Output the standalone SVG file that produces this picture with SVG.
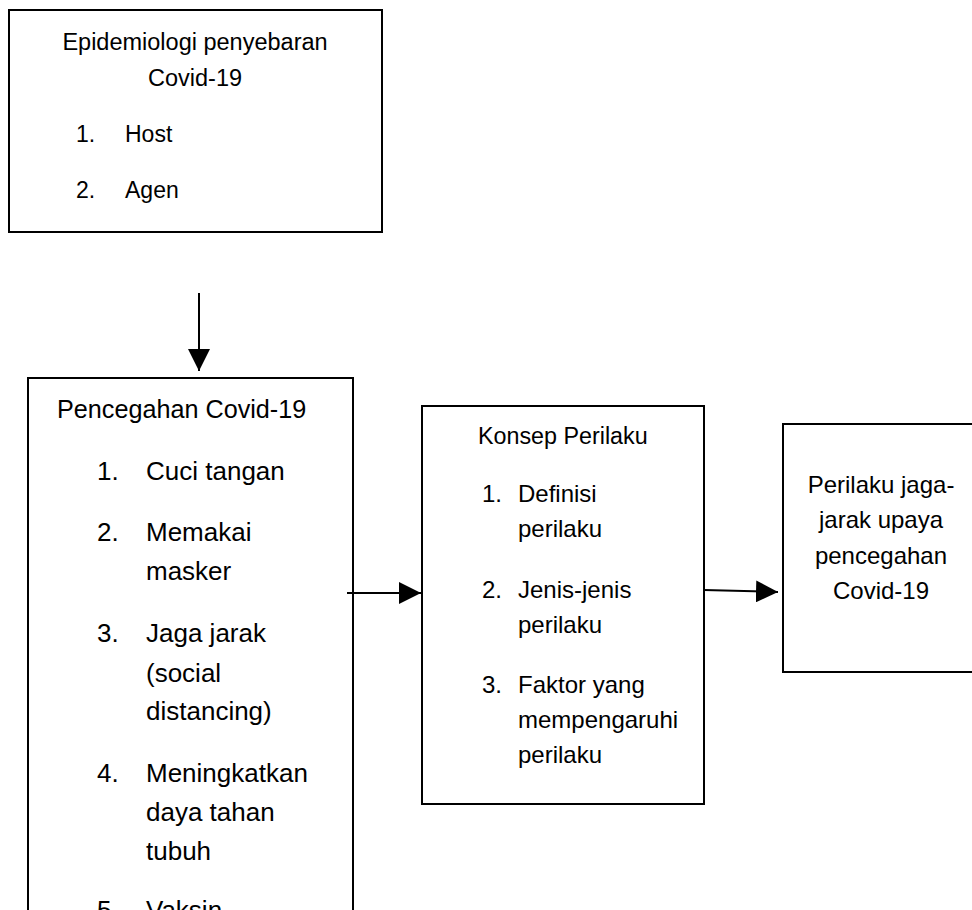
<svg xmlns="http://www.w3.org/2000/svg" width="972" height="910" viewBox="0 0 972 910">
  <defs>
    <marker id="arrow" markerWidth="22" markerHeight="22" refX="22" refY="11" orient="auto" markerUnits="userSpaceOnUse">
      <path d="M0,0 L22,11 L0,22 Z" fill="#000"/>
    </marker>
    <style>
      .box { fill: #fff; stroke: #000; stroke-width: 2; }
      .t { font-family: "Liberation Sans", Arial, sans-serif; fill: #000; }
      .conn { stroke: #000; stroke-width: 2; fill: none; }
    </style>
  </defs>
  <rect width="972" height="910" fill="#fff"/>

  <g id="epidemiologi">
    <rect class="box" x="9" y="10" width="373" height="222"/>
    <text class="t" x="195" y="50" font-size="23.5" text-anchor="middle">Epidemiologi penyebaran</text>
    <text class="t" x="195" y="86" font-size="23.5" text-anchor="middle">Covid-19</text>
    <text class="t" x="76" y="142" font-size="23">1.</text>
    <text class="t" x="125" y="142" font-size="23">Host</text>
    <text class="t" x="76" y="198" font-size="23">2.</text>
    <text class="t" x="125" y="198" font-size="23">Agen</text>
  </g>

  <g id="pencegahan">
    <rect class="box" x="28" y="378" width="325" height="560"/>
    <text class="t" x="57" y="418" font-size="25.2">Pencegahan Covid-19</text>
    <g font-size="26">
      <text class="t" x="97" y="480">1.</text>
      <text class="t" x="146" y="480">Cuci tangan</text>
      <text class="t" x="97" y="541">2.</text>
      <text class="t" x="146" y="541">Memakai</text>
      <text class="t" x="146" y="580">masker</text>
      <text class="t" x="97" y="642">3.</text>
      <text class="t" x="146" y="642">Jaga jarak</text>
      <text class="t" x="146" y="682">(social</text>
      <text class="t" x="146" y="720">distancing)</text>
      <text class="t" x="97" y="782">4.</text>
      <text class="t" x="146" y="782">Meningkatkan</text>
      <text class="t" x="146" y="821">daya tahan</text>
      <text class="t" x="146" y="860">tubuh</text>
      <text class="t" x="97" y="919">5.</text>
      <text class="t" x="146" y="919">Vaksin</text>
    </g>
  </g>

  <g id="konsep">
    <rect class="box" x="422" y="406" width="282" height="398"/>
    <text class="t" x="478" y="444" font-size="23.3">Konsep Perilaku</text>
    <g font-size="24">
      <text class="t" x="482" y="502">1.</text>
      <text class="t" x="518" y="502">Definisi</text>
      <text class="t" x="518" y="537">perilaku</text>
      <text class="t" x="482" y="598">2.</text>
      <text class="t" x="518" y="598">Jenis-jenis</text>
      <text class="t" x="518" y="633">perilaku</text>
      <text class="t" x="482" y="693">3.</text>
      <text class="t" x="518" y="693">Faktor yang</text>
      <text class="t" x="518" y="728">mempengaruhi</text>
      <text class="t" x="518" y="763">perilaku</text>
    </g>
  </g>

  <g id="perilaku-jaga-jarak">
    <rect class="box" x="783" y="424" width="200" height="248"/>
    <g font-size="24" text-anchor="middle">
      <text class="t" x="881" y="493">Perilaku jaga-</text>
      <text class="t" x="881" y="528">jarak upaya</text>
      <text class="t" x="881" y="564">pencegahan</text>
      <text class="t" x="881" y="599">Covid-19</text>
    </g>
  </g>

  <g id="connectors">
    <line class="conn" x1="199" y1="293" x2="199" y2="371" marker-end="url(#arrow)"/>
    <line class="conn" x1="347" y1="593" x2="421" y2="593" marker-end="url(#arrow)"/>
    <line class="conn" x1="704" y1="590" x2="778" y2="592" marker-end="url(#arrow)"/>
  </g>
</svg>
